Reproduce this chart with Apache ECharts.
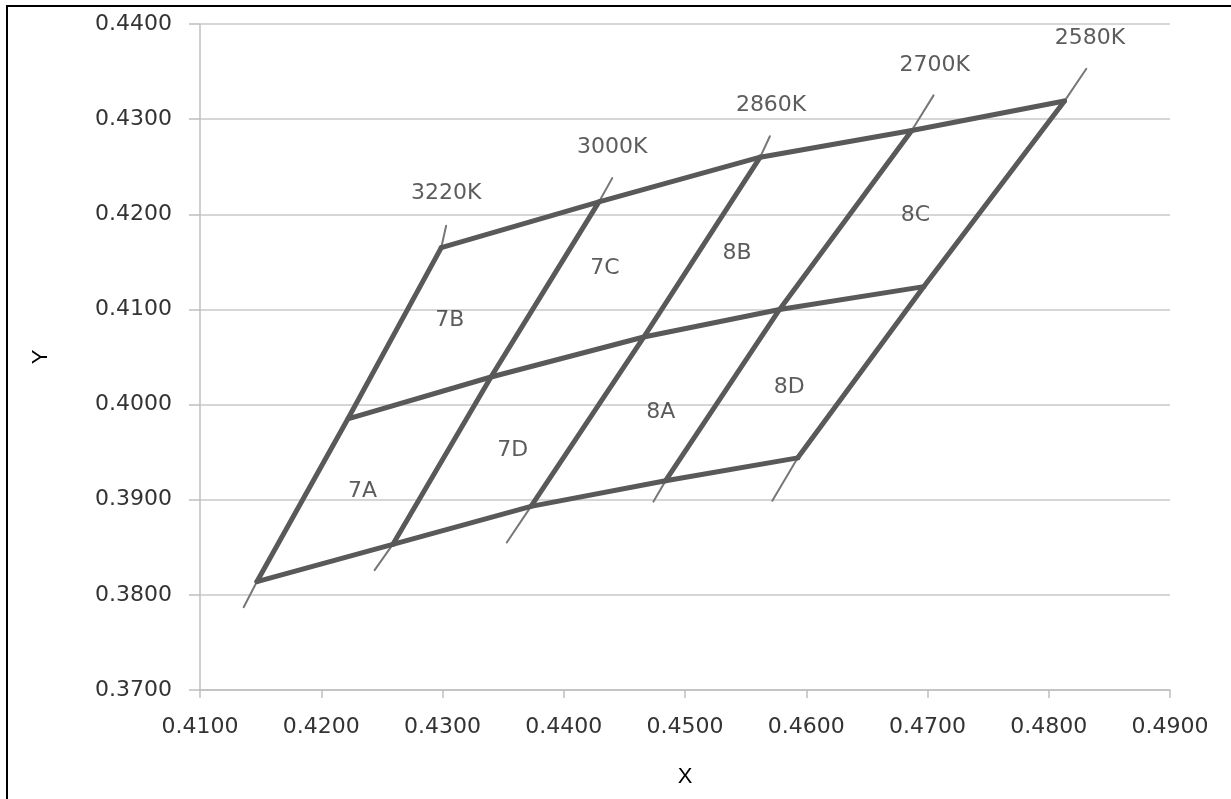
<!DOCTYPE html>
<html>
<head>
<meta charset="utf-8">
<script src="https://cdn.jsdelivr.net/npm/echarts@6/dist/echarts.min.js"></script>
<style>
  html, body { margin: 0; padding: 0; background: #fff; }
  #chart { width: 1231px; height: 799px; }
  #frame { position: absolute; left: 6px; top: 5px; right: 0; bottom: 0;
           border-left: 2px solid #000; border-top: 2px solid #000; pointer-events: none; }
</style>
</head>
<body>
<div id="chart"></div>
<div id="frame"></div>
<script>
// Axis settings
const xTicks = [0.41, 0.42, 0.43, 0.44, 0.45, 0.46, 0.47, 0.48, 0.49];
const yTicks = [0.37, 0.38, 0.39, 0.40, 0.41, 0.42, 0.43, 0.44];

// Thin CCT line end points (bottom end, top end)
const cct3220 = [[0.4136, 0.3787], [0.4303, 0.4188]];
const cct3000 = [[0.4244, 0.3826], [0.4440, 0.4238]];
const cct2860 = [[0.4353, 0.3855], [0.4570, 0.4282]];
const cct2700 = [[0.4474, 0.3898], [0.4705, 0.4325]];
const cct2580 = [[0.4572, 0.3899], [0.4831, 0.4353]];

// Thick quadrangle boundaries
const topEdge    = [[0.4299, 0.4165], [0.4429, 0.4213], [0.4562, 0.4260], [0.4687, 0.4288], [0.4813, 0.4319]];
const midEdge    = [[0.4222, 0.3985], [0.4340, 0.4029], [0.4466, 0.4071], [0.4578, 0.4100], [0.4697, 0.4124]];
const bottomEdge = [[0.4147, 0.3814], [0.4259, 0.3853], [0.4373, 0.3893], [0.4484, 0.3920], [0.4593, 0.3944]];
const seg3220 = [[0.4147, 0.3814], [0.4222, 0.3985], [0.4299, 0.4165]];
const seg3000 = [[0.4259, 0.3853], [0.4340, 0.4029], [0.4429, 0.4213]];
const seg2860 = [[0.4373, 0.3893], [0.4466, 0.4071], [0.4562, 0.4260]];
const seg2700 = [[0.4484, 0.3920], [0.4578, 0.4100], [0.4687, 0.4288]];
const seg2580 = [[0.4593, 0.3944], [0.4697, 0.4124], [0.4813, 0.4319]];

// Text annotations: [x, y, text]
const cctLabels = [
  [0.4303, 0.4222, '3220K'],
  [0.4440, 0.4270, '3000K'],
  [0.4571, 0.4315, '2860K'],
  [0.4706, 0.4357, '2700K'],
  [0.4834, 0.4385, '2580K']
];
const binLabels = [
  [0.4234, 0.3909, '7A'],
  [0.4306, 0.4089, '7B'],
  [0.4434, 0.4143, '7C'],
  [0.4358, 0.3952, '7D'],
  [0.4480, 0.3992, '8A'],
  [0.4543, 0.4159, '8B'],
  [0.4690, 0.4199, '8C'],
  [0.4586, 0.4018, '8D']
];

const FONT = 'DejaVu Sans';
const TXT = '#333333';
const THICK = '#595959';
const THIN = '#777777';

function lineSeries(data, width, color, z) {
  return {
    type: 'line', data: data, showSymbol: false, symbol: 'none', silent: true,
    lineStyle: { width: width, color: color, cap: 'round', join: 'round' },
    z: z, animation: false
  };
}

const series = [];
// thin extensions beyond the quadrangle, continuing each CCT line
const pairs = [[cct3220, seg3220], [cct3000, seg3000], [cct2860, seg2860], [cct2700, seg2700], [cct2580, seg2580]];
pairs.forEach(([cct, seg]) => {
  series.push(lineSeries([cct[0], seg[0]], 2, THIN, 2));
  series.push(lineSeries([seg[seg.length - 1], cct[1]], 2, THIN, 2));
});
[topEdge, midEdge, bottomEdge, seg3220, seg3000, seg2860, seg2700, seg2580]
  .forEach(d => series.push(lineSeries(d, 5, THICK, 3)));

function labelSeries(data) {
  return {
    type: 'scatter', symbolSize: 0, silent: true, animation: false, z: 5,
    data: data.map(d => ({ value: [d[0], d[1]], name: d[2] })),
    label: {
      show: true, position: 'inside', formatter: p => p.name,
      fontFamily: FONT, fontSize: 22, color: TXT
    }
  };
}
series.push(labelSeries(cctLabels));
series.push(labelSeries(binLabels));

const chart = echarts.init(document.getElementById('chart'), null, { renderer: 'canvas' });
chart.setOption({
  animation: false,
  backgroundColor: '#fff',
  grid: { left: 200, right: 61, top: 24, bottom: 109, containLabel: false },
  xAxis: {
    type: 'value', min: xTicks[0], max: xTicks[xTicks.length - 1], interval: 0.01,
    name: 'X', nameLocation: 'middle', nameGap: 76,
    nameTextStyle: { fontFamily: 'Liberation Sans', fontSize: 22, color: '#000' },
    axisLine: { show: true, lineStyle: { color: '#bfbfbf', width: 1.5 } },
    axisTick: { show: true, length: 8, lineStyle: { color: '#bfbfbf', width: 1.5 } },
    axisLabel: { fontFamily: FONT, fontSize: 22, color: TXT, margin: 26,
                 formatter: v => v.toFixed(4) },
    splitLine: { show: false }
  },
  yAxis: {
    type: 'value', min: yTicks[0], max: yTicks[yTicks.length - 1], interval: 0.01,
    name: 'Y', nameLocation: 'middle', nameGap: 148, nameRotate: 90,
    nameTextStyle: { fontFamily: 'Liberation Sans', fontSize: 22, color: '#000' },
    axisLine: { show: true, lineStyle: { color: '#bfbfbf', width: 1.5 } },
    axisTick: { show: true, length: 11, lineStyle: { color: '#bfbfbf', width: 1.5 } },
    axisLabel: { fontFamily: FONT, fontSize: 22, color: TXT, margin: 28,
                 formatter: v => v.toFixed(4) },
    splitLine: { show: true, lineStyle: { color: '#c8c8c8', width: 1.5 } }
  },
  series: series
});
</script>
</body>
</html>
